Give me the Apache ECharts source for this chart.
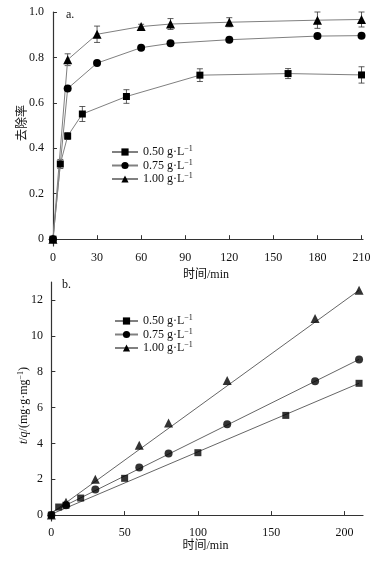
<!DOCTYPE html>
<html>
<head>
<meta charset="utf-8">
<script src="https://cdn.jsdelivr.net/npm/echarts@6/dist/echarts.min.js"></script>
<style>
  html, body { margin: 0; padding: 0; background: #fff; }
  #main { width: 386px; height: 562px; }
</style>
</head>
<body>
<div id="main"></div>
<script>
// doses
const doseNames = ['0.50 g·L⁻¹', '0.75 g·L⁻¹', '1.00 g·L⁻¹'];
// sampling times (min)
const timeSq = [0, 5, 10, 20, 50, 100, 160, 210];
const timeCT = [0, 10, 30, 60, 80, 120, 180, 210];
// (a) removal rate
const removalSq = [0, 0.331, 0.454, 0.551, 0.628, 0.722, 0.729, 0.723];
const removalCi = [0, 0.663, 0.775, 0.843, 0.862, 0.878, 0.894, 0.896];
const removalTr = [0, 0.79, 0.902, 0.936, 0.947, 0.955, 0.964, 0.967];
const errSq = [0.006, 0.02, 0.015, 0.033, 0.03, 0.028, 0.022, 0.036];
const errCi = [0.005, 0.006, 0.006, 0.005, 0.005, 0.005, 0.005, 0.005];
const errTr = [0.005, 0.026, 0.036, 0.01, 0.024, 0.02, 0.036, 0.033];
// (b) t/q
const ratioSq = [0, 0.45, 0.55, 0.95, 2.05, 3.48, 5.56, 7.35];
const ratioCi = [0, 0.55, 1.43, 2.65, 3.43, 5.06, 7.46, 8.68];
const ratioTr = [0, 0.72, 2.0, 3.89, 5.13, 7.5, 10.96, 12.54];
// (b) fitted lines, end points
const fitX = [0, 210];
const fitSq = [0.05, 7.35];
const fitCi = [0.15, 8.68];
const fitTr = [0.1, 12.54];
// ticks
const ticksAx = [0, 30, 60, 90, 120, 150, 180, 210];
const ticksAy = [0, 0.2, 0.4, 0.6, 0.8, 1.0];
const ticksBx = [0, 50, 100, 150, 200];
const ticksBy = [0, 2, 4, 6, 8, 10, 12];

const FONT = "'Liberation Serif', 'Noto Sans CJK SC', serif";
const symbols = ['rect', 'circle', 'triangle'];
const symSizes = [7, 8, 9];

function pairs(xs, ys, es) {
  return xs.map((x, i) => es ? [x, ys[i], es[i]] : [x, ys[i]]);
}

function axisX(gridIndex, min, max, ticks, gap) {
  return {
    type: 'value', gridIndex: gridIndex, min: min, max: max,
    name: '时间/min', nameLocation: 'middle', nameGap: gap, nameMoveOverlap: false,
    nameTextStyle: { fontFamily: FONT, fontSize: 12, color: '#111' },
    axisLine: { lineStyle: { color: '#333', width: 1.2 } },
    axisTick: { inside: true, length: 4, customValues: ticks, lineStyle: { color: '#333' } },
    axisLabel: { customValues: ticks, margin: 6, fontFamily: FONT, fontSize: 12, color: '#111' },
    splitLine: { show: false }
  };
}

function axisY(gridIndex, min, max, ticks, name, gap, pad, fmt, rich) {
  return {
    type: 'value', gridIndex: gridIndex, min: min, max: max,
    name: name, nameLocation: 'middle', nameGap: gap, nameRotate: 90, nameMoveOverlap: false,
    nameTextStyle: { fontFamily: FONT, fontSize: 12, color: '#111', padding: pad, rich: rich },
    axisLine: { show: true, lineStyle: { color: '#333', width: 1.2 } },
    axisTick: { show: true, inside: true, length: 4, customValues: ticks, lineStyle: { color: '#333' } },
    axisLabel: { customValues: ticks, margin: 5, fontFamily: FONT, fontSize: 12, color: '#111', formatter: fmt },
    splitLine: { show: false }
  };
}

function errorBars(data, idx) {
  return {
    type: 'custom', xAxisIndex: idx, yAxisIndex: idx, z: 1, silent: true,
    data: data,
    renderItem: function(params, api) {
      const x = api.value(0), y = api.value(1), e = api.value(2);
      const top = api.coord([x, y + e]);
      const bot = api.coord([x, y - e]);
      const st = { stroke: '#333', lineWidth: 0.8 };
      return {
        type: 'group',
        children: [
          { type: 'line', shape: { x1: top[0], y1: top[1], x2: bot[0], y2: bot[1] }, style: st },
          { type: 'line', shape: { x1: top[0] - 3, y1: top[1], x2: top[0] + 3, y2: top[1] }, style: st },
          { type: 'line', shape: { x1: bot[0] - 3, y1: bot[1], x2: bot[0] + 3, y2: bot[1] }, style: st }
        ]
      };
    }
  };
}

function lineA(i, xs, ys) {
  return {
    type: 'line', name: doseNames[i], xAxisIndex: 0, yAxisIndex: 0, z: 3,
    data: pairs(xs, ys), symbol: symbols[i], symbolSize: symSizes[i], showSymbol: true,
    lineStyle: { color: '#808080', width: 1 }, itemStyle: { color: '#000' }
  };
}

function scatterB(i, xs, ys) {
  return {
    type: 'scatter', name: doseNames[i], xAxisIndex: 1, yAxisIndex: 1, z: 3,
    data: pairs(xs, ys), symbol: symbols[i], symbolSize: symSizes[i],
    itemStyle: { color: '#000' }
  };
}

function fitB(ys) {
  return {
    type: 'line', xAxisIndex: 1, yAxisIndex: 1, z: 2, silent: true,
    data: pairs(fitX, ys), showSymbol: false,
    lineStyle: { color: '#666', width: 1 }
  };
}

const legendText = {
  fontFamily: FONT, fontSize: 12, color: '#111',
  rich: {
    n: { fontFamily: FONT, fontSize: 12, color: '#111', lineHeight: 14 },
    s: { fontFamily: FONT, fontSize: 8, color: '#111', verticalAlign: 'top', lineHeight: 14 }
  }
};
function legendFmt(name) {
  return '{n|' + name.replace('⁻¹', '') + '}{s|−1}';
}

const chart = echarts.init(document.getElementById('main'));
const option = {
  backgroundColor: '#fff',
  animation: false,
  title: [
    { text: 'a.', left: 66, top: 9, padding: 0, textStyle: { fontFamily: FONT, fontSize: 12, fontWeight: 'normal', color: '#111' } },
    { text: 'b.', left: 62, top: 279, padding: 0, textStyle: { fontFamily: FONT, fontSize: 12, fontWeight: 'normal', color: '#111' } }
  ],
  grid: [
    { left: 49, right: 23, top: 12, height: 234 },
    { left: 48, right: 23, top: 282, height: 239 }
  ],
  legend: [
    {
      orient: 'vertical', left: 111, top: 145, padding: 0, itemGap: 0.5,
      itemWidth: 26, itemHeight: 9, data: doseNames,
      textStyle: legendText, formatter: legendFmt
    },
    {
      orient: 'vertical', left: 114, top: 314, padding: 0, itemGap: 0.5,
      itemWidth: 23, itemHeight: 9, data: doseNames,
      textStyle: legendText, formatter: legendFmt
    }
  ],
  xAxis: [
    axisX(0, -2.7, 211, ticksAx, 23),
    axisX(1, -2.3, 212.7, ticksBx, 19)
  ],
  yAxis: [
    axisY(0, -0.03, 1.0, ticksAy, '去除率', 20, [0, 0, 0, 12],
      v => v === 0 ? '0' : v.toFixed(1)),
    axisY(1, -0.33, 13, ticksBy, '{i|t}/{i|q}/(mg·g·mg{s|−1})', 17, [0, 8, 0, 0],
      v => String(v),
      {
        i: { fontFamily: FONT, fontSize: 12, fontStyle: 'italic', color: '#111', lineHeight: 14 },
        s: { fontFamily: FONT, fontSize: 8, color: '#111', verticalAlign: 'top', lineHeight: 14 }
      })
  ],
  series: [
    lineA(0, timeSq, removalSq),
    lineA(1, timeCT, removalCi),
    lineA(2, timeCT, removalTr),
    errorBars(pairs(timeSq, removalSq, errSq), 0),
    errorBars(pairs(timeCT, removalCi, errCi), 0),
    errorBars(pairs(timeCT, removalTr, errTr), 0),
    fitB(fitSq),
    fitB(fitCi),
    fitB(fitTr),
    scatterB(0, timeSq, ratioSq),
    scatterB(1, timeCT, ratioCi),
    scatterB(2, timeCT, ratioTr)
  ]
};
chart.setOption(option);

window.onresize = function() {
  chart.resize();
};
</script>
</body>
</html>
